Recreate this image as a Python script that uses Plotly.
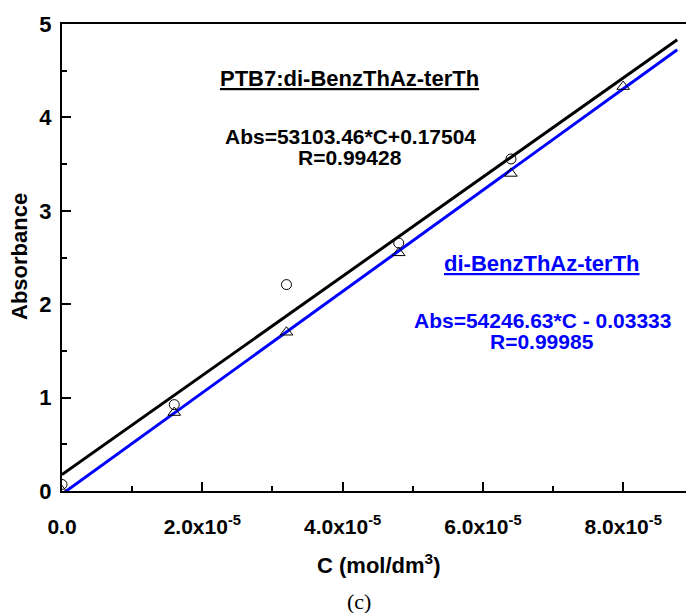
import plotly.graph_objects as go

# ---- data ----
conc = [0.0, 1.6e-5, 3.2e-5, 4.8e-5, 6.4e-5]
abs_ptb7 = [0.07, 0.925, 2.21, 2.655, 3.555]
conc_tri = [0.0, 1.6e-5, 3.2e-5, 4.8e-5, 6.4e-5, 8.0e-5]
abs_di = [0.0, 0.84, 1.70, 2.55, 3.40, 4.33]

fit_slopes = [53103.46, 54246.63]
fit_intercepts = [0.17504, -0.03333]
fit_x = [0.0, 8.77e-5]
fit_colors = ["#000000", "#0000FF"]

x_tickvals = [0.0, 2e-5, 4e-5, 6e-5, 8e-5]
x_ticktext = ["<b>0.0</b>", "<b>2.0x10<sup>-5</sup></b>", "<b>4.0x10<sup>-5</sup></b>",
              "<b>6.0x10<sup>-5</sup></b>", "<b>8.0x10<sup>-5</sup></b>"]
x_minor = [1e-5, 3e-5, 5e-5, 7e-5]
y_tickvals = [0, 1, 2, 3, 4, 5]
y_minor = [0.5, 1.5, 2.5, 3.5, 4.5]

FONT = "Arial, Liberation Sans, sans-serif"

fig = go.Figure()

for s, b, c in zip(fit_slopes, fit_intercepts, fit_colors):
    fig.add_trace(go.Scatter(x=fit_x, y=[s * xv + b for xv in fit_x], mode="lines",
                             line=dict(color=c, width=3), showlegend=False))

fig.add_trace(go.Scatter(x=conc, y=abs_ptb7, mode="markers", showlegend=False,
                         marker=dict(symbol="circle-open", size=10, color="black",
                                     line=dict(width=1, color="black"))))
fig.add_trace(go.Scatter(x=conc_tri, y=abs_di, mode="markers", showlegend=False,
                         marker=dict(symbol="triangle-up-open", size=11, color="black",
                                     line=dict(width=1, color="black"))))

fig.update_xaxes(range=[0, 8.895e-5], showline=True, linecolor="black", linewidth=2,
                 mirror=True, showgrid=False, zeroline=False,
                 tickmode="array", tickvals=x_tickvals, ticktext=x_ticktext,
                 ticks="inside", ticklen=9, tickwidth=2, tickcolor="black",
                 ticklabelstandoff=16,
                 tickfont=dict(family=FONT, size=21, color="black"),
                 minor=dict(tickmode="array", tickvals=x_minor, ticks="inside",
                            ticklen=5, tickwidth=2, tickcolor="black"))
fig.update_yaxes(range=[0, 5], showline=True, linecolor="black", linewidth=2,
                 mirror=False, showgrid=False, zeroline=False,
                 tickmode="array", tickvals=y_tickvals,
                 ticktext=["<b>%d</b>" % v for v in y_tickvals],
                 ticks="inside", ticklen=9, tickwidth=2, tickcolor="black",
                 ticklabelstandoff=4,
                 tickfont=dict(family=FONT, size=22, color="black"),
                 minor=dict(tickmode="array", tickvals=y_minor, ticks="inside",
                            ticklen=5, tickwidth=2, tickcolor="black"))

W, H = 686, 613
L, R, T, B = 62, 0, 24, 122
pw, ph = W - L - R, H - T - B


def px(xp):
    return (xp - L) / pw


def py(yp):
    return (H - B - yp) / ph


ann = []


def add(text, xp, yp, size, color="black", family=FONT, angle=0):
    ann.append(dict(text=text, x=px(xp), y=py(yp), xref="paper", yref="paper",
                    showarrow=False, xanchor="center", yanchor="middle",
                    textangle=angle, font=dict(family=family, size=size, color=color)))


add("<b><span style='text-decoration:underline'>PTB7:di-BenzThAz-terTh</span></b>", 349, 78, 22)
add("<b>Abs=53103.46*C+0.17504</b>", 350, 136, 21)
add("<b>R=0.99428</b>", 350, 157, 21)
add("<b><span style='text-decoration:underline'>di-BenzThAz-terTh</span></b>", 542, 263, 22, "#0000FF")
add("<b>Abs=54246.63*C - 0.03333</b>", 542, 320, 21, "#0000FF")
add("<b>R=0.99985</b>", 542, 341, 21, "#0000FF")
add("<b>C (mol/dm<sup>3</sup>)</b>", 378, 564, 22)
add("(c)", 359, 601, 22, family="Liberation Serif, Times New Roman, serif")
add("<b>Absorbance</b>", 19, 257, 22, angle=-90)

fig.update_layout(width=W, height=H, margin=dict(l=L, r=R, t=T, b=B),
                  plot_bgcolor="white", paper_bgcolor="white",
                  annotations=ann, showlegend=False)

fig.write_html("out.html")
